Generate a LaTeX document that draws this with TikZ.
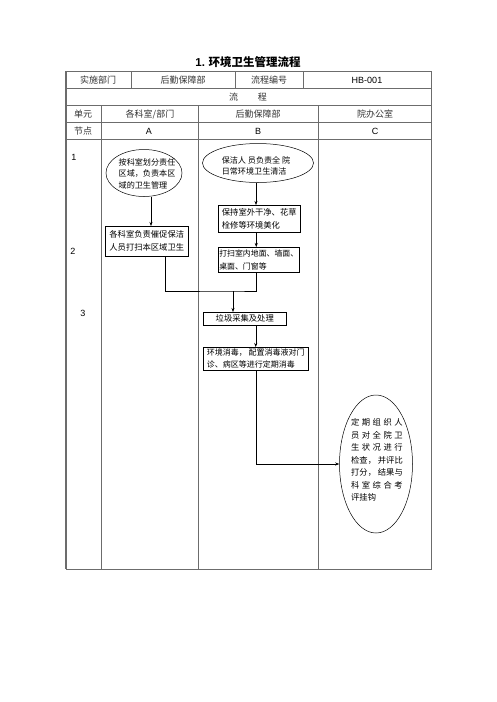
\documentclass[tikz,border=0pt]{standalone}
\usepackage{fontspec}
\setmainfont{Noto Sans CJK SC}
\newfontfamily\latinfont{Liberation Sans}
\newfontfamily\widefont{Noto Sans CJK SC}[LetterSpace=30]
\usetikzlibrary{shapes.geometric, arrows.meta, shadows}

\begin{document}
\begin{tikzpicture}[x=1pt, y=-1pt,
    every node/.style={font=\fontsize{8.3}{13}\selectfont, inner sep=2pt},
    grid/.style={draw=gray!85!black, line width=0.6pt},
    cell/.style={font=\fontsize{9}{11}\selectfont, text=black!80},
    latin/.style={font=\latinfont\fontsize{9}{11}\selectfont},
    stepbox/.style={draw, line width=0.5pt, fill=white, anchor=north west, align=left},
    shadowbox/.style={stepbox, drop shadow={shadow xshift=1pt, shadow yshift=-1pt, opacity=1, fill=black}},
    bubble/.style={ellipse, draw, line width=0.5pt, inner sep=0pt},
    bubbletext/.style={align=left, font=\fontsize{8.1}{11.5}\selectfont},
    flow/.style={-{Stealth[length=4pt, width=3pt]}, line width=0.5pt}]
    \useasboundingbox[fill=white] (0,0) rectangle (496,702);

    % Title
    \node[font=\bfseries\fontsize{11.5}{14}\selectfont] (title) at (248,62) {{\latinfont 1.} 环境卫生管理流程};

    % Table frame
    \draw[grid] (66,71) rectangle (431,569);
    \draw[grid, line width=1.2pt] (66,71) -- (66,569);
    \foreach \y in {88,105,122,139}
        \draw[grid] (66,\y) -- (431,\y);
    \foreach \x in {131,235,303}
        \draw[grid] (\x,71) -- (\x,88);
    \foreach \x in {101,198,318}
        \draw[grid] (\x,105) -- (\x,569);

    % Header cells
    \node[cell] (dept) at (98,80) {实施部门};
    \node[cell] (deptname) at (183,80) {后勤保障部};
    \node[cell] (codelabel) at (269,80) {流程编号};
    \node[latin] (code) at (367,80) {HB-001};
    \node[cell] (flowhead) at (248,97) {流\hspace{2.2em}程};
    \node[cell] (unit) at (83,114) {单元};
    \node[cell] (unitA) at (150,114) {各科室/部门};
    \node[cell] (unitB) at (258,114) {后勤保障部};
    \node[cell] (unitC) at (375,114) {院办公室};
    \node[cell] (stage) at (83,131) {节点};
    \node[latin] (colA) at (149,131) {A};
    \node[latin] (colB) at (258,131) {B};
    \node[latin] (colC) at (375,131) {C};

    % Step numbers
    \node[latin] (step1) at (74,157) {1};
    \node[latin] (step2) at (73,251) {2};
    \node[latin] (step3) at (83,313) {3};

    % Column A
    \node[bubble, minimum width=76pt, minimum height=47pt] (ellA) at (144,173) {};
    \node[bubbletext] (ellAtext) at (147,173.5) {按科室划分责任\\区域，负责本区\\域的卫生管理};
    \node[stepbox, minimum width=83pt, minimum height=30pt] (boxA) at (105,226) {各科室负责催促保洁\\人员打扫本区域卫生};

    % Column B
    \node[bubble, minimum width=111pt, minimum height=39pt] (ellB) at (258,163) {};
    \node[bubbletext] (ellBtext) at (256,166) {保洁人 员负责全 院\\日常环境卫生清洁};
    \node[shadowbox, minimum width=82pt, minimum height=27pt] (outdoor) at (218,205) {保持室外干净、花草\\栓修等环境美化};
    \node[stepbox, minimum width=81pt, minimum height=25pt, inner sep=1pt,
        font=\fontsize{7.9}{13}\selectfont] (indoor) at (218,247) {打扫室内地面、墙面、\\桌面、门窗等};
    \node[shadowbox, minimum width=83pt, minimum height=13pt, inner sep=1pt] (garbage) at (203,312) {垃圾采集及处理};
    \node[stepbox, minimum width=105pt, minimum height=23pt, inner sep=1pt,
        font=\fontsize{8}{12}\selectfont] (disinfect) at (203,347) {环境消毒， 配置消毒液对门\\诊、病区等进行定期消毒};

    % Column C
    \node[bubble, minimum width=73pt, minimum height=138pt] (ellC) at (376,464) {};
    \node[bubbletext, font=\fontsize{8.3}{12.5}\selectfont] (ellCtext) at (377,460) {{\widefont 定期组织人}\\{\widefont 员对全院卫}\\{\widefont 生状况进行}\\检查， 并评比\\打分， 结果与\\{\widefont 科室综合考}\\评挂钩};

    % Connections
    \coordinate (join) at (233,291);
    \draw[flow] ([xshift=7pt]ellA.south) -- ([xshift=7pt]ellA.south |- boxA.north);
    \draw[flow] ([xshift=-2pt]ellB.south) -- ([xshift=-2pt]ellB.south |- outdoor.north);
    \draw[flow] ([xshift=-3pt]outdoor.south) -- ([xshift=-3pt]outdoor.south |- indoor.north);
    \draw[line width=0.5pt] ([xshift=18.5pt]boxA.south) |- (join) -| ([xshift=-3pt]indoor.south);
    \draw[flow] (join) -- (join |- garbage.north);
    \draw[flow] (disinfect.north |- garbage.south) -- (disinfect.north);
    \draw[flow] (disinfect.south) |- (ellC.west);
\end{tikzpicture}
\end{document}
